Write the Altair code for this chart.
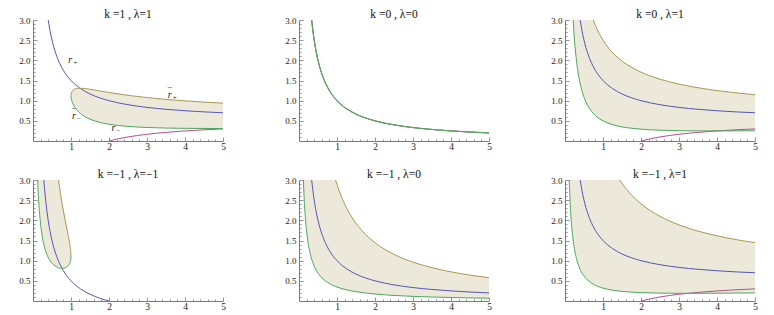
import altair as alt
import pandas as pd

# ---------------- data ----------------
# r+ curves (blue)
rp_l1_x = [0.4, 0.45, 0.5, 0.6, 0.7, 0.8, 1.0, 1.25, 1.5, 2.0, 2.5, 3.0, 3.5, 4.0, 4.5, 5.0]
rp_l1_y = [3.0, 2.722, 2.5, 2.167, 1.929, 1.75, 1.5, 1.3, 1.167, 1.0, 0.9, 0.833, 0.786, 0.75, 0.722, 0.7]
rp_l0_x = [0.3333, 0.35, 0.4, 0.45, 0.5, 0.6, 0.7, 0.8, 1.0, 1.25, 1.5, 2.0, 2.5, 3.0, 3.5, 4.0, 4.5, 5.0]
rp_l0_y = [3.0, 2.857, 2.5, 2.222, 2.0, 1.667, 1.429, 1.25, 1.0, 0.8, 0.667, 0.5, 0.4, 0.333, 0.286, 0.25, 0.222, 0.2]
rp_lm1_x = [0.2857, 0.3, 0.35, 0.4, 0.5, 0.6, 0.7, 0.8, 1.0, 1.25, 1.5, 1.75, 2.0]
rp_lm1_y = [3.0, 2.833, 2.357, 2.0, 1.5, 1.167, 0.929, 0.75, 0.5, 0.3, 0.167, 0.071, 0.0]
# r- curve (purple), lambda = 1
rm_l1_x = [2.0, 2.25, 2.5, 3.0, 3.5, 4.0, 4.5, 5.0]
rm_l1_y = [0.0, 0.056, 0.1, 0.167, 0.214, 0.25, 0.278, 0.3]

# panel k=1, lambda=1 : r-bar (olive upper, green lower)
p1_x = [1.0, 1.001, 1.005, 1.01, 1.02, 1.05, 1.1, 1.2, 1.35, 1.5, 1.75, 2.0, 2.5, 3.0, 3.5, 4.0, 4.5, 5.0]
p1_up = [1.118, 1.142, 1.170, 1.190, 1.215, 1.256, 1.288, 1.308, 1.302, 1.283, 1.242, 1.202, 1.132, 1.077, 1.032, 0.995, 0.964, 0.938]
p1_lo = [1.118, 1.093, 1.060, 1.034, 0.997, 0.921, 0.836, 0.722, 0.613, 0.541, 0.464, 0.416, 0.362, 0.335, 0.321, 0.314, 0.311, 0.309]

# panel k=0, lambda=0 : r-bar+ = r-bar- (single curve)
p2_x = rp_l0_x
p2_y = rp_l0_y

# panel k=0, lambda=1
p3_lo_x = [0.2147, 0.23, 0.25, 0.28, 0.32, 0.36, 0.4, 0.5, 0.6, 0.7, 0.745, 0.8, 0.9, 1.0, 1.25, 1.5, 1.75, 2.0, 2.5, 3.0, 3.5, 4.0, 4.5, 5.0]
p3_lo_y = [3.0, 2.763, 2.5, 2.182, 1.857, 1.611, 1.419, 1.086, 0.876, 0.733, 0.684, 0.632, 0.557, 0.5, 0.406, 0.350, 0.316, 0.293, 0.268, 0.256, 0.251, 0.25, 0.251, 0.253]
p3_up_x = [0.745, 0.8, 0.9, 1.0, 1.25, 1.5, 1.75, 2.0, 2.5, 3.0, 3.5, 4.0, 4.5, 5.0]
p3_up_y = [3.0, 2.868, 2.665, 2.5, 2.194, 1.983, 1.827, 1.707, 1.532, 1.411, 1.320, 1.25, 1.194, 1.147]

# panel k=-1, lambda=-1
p4_lo_x = [0.1217, 0.13, 0.15, 0.2, 0.25, 0.3, 0.4, 0.5, 0.6, 0.6708, 0.7, 0.75, 0.8, 0.85, 0.9, 0.95, 0.98, 0.995, 0.999, 1.0]
p4_lo_y = [3.0, 2.820, 2.469, 1.901, 1.566, 1.346, 1.082, 0.937, 0.856, 0.824, 0.816, 0.809, 0.811, 0.824, 0.851, 0.904, 0.967, 1.036, 1.079, 1.118]
p4_up_x = [0.6708, 0.7, 0.75, 0.8, 0.85, 0.9, 0.95, 0.98, 0.995, 0.999, 1.0]
p4_up_y = [3.0, 2.807, 2.505, 2.234, 1.983, 1.745, 1.503, 1.335, 1.217, 1.160, 1.118]

# panel k=-1, lambda=0
p5_lo_x = [0.1153, 0.13, 0.15, 0.2, 0.25, 0.3, 0.4, 0.5, 0.6, 0.75, 0.9633, 1.0, 1.1, 1.25, 1.5, 1.75, 2.0, 2.5, 3.0, 3.5, 4.0, 4.5, 5.0]
p5_lo_y = [3.0, 2.662, 2.307, 1.730, 1.384, 1.153, 0.865, 0.692, 0.577, 0.461, 0.359, 0.346, 0.315, 0.277, 0.231, 0.198, 0.173, 0.138, 0.115, 0.099, 0.0865, 0.077, 0.069]
p5_up_x = [0.9633, 1.0, 1.1, 1.25, 1.5, 1.75, 2.0, 2.5, 3.0, 3.5, 4.0, 4.5, 5.0]
p5_up_y = [3.0, 2.890, 2.627, 2.312, 1.927, 1.651, 1.445, 1.156, 0.963, 0.826, 0.7225, 0.642, 0.578]

# panel k=-1, lambda=1
p6_lo_x = [0.1109, 0.12, 0.13, 0.15, 0.2, 0.25, 0.3, 0.4, 0.5, 0.6, 0.75, 1.0, 1.25, 1.4423, 1.5, 1.75, 2.0, 2.5, 3.0, 3.5, 4.0, 4.5, 5.0]
p6_lo_y = [3.0, 2.765, 2.545, 2.193, 1.623, 1.283, 1.059, 0.782, 0.620, 0.515, 0.414, 0.319, 0.268, 0.244, 0.238, 0.219, 0.207, 0.195, 0.191, 0.191, 0.193, 0.197, 0.200]
p6_up_x = [1.4423, 1.5, 1.75, 2.0, 2.5, 3.0, 3.5, 4.0, 4.5, 5.0]
p6_up_y = [3.0, 2.919, 2.630, 2.411, 2.099, 1.887, 1.733, 1.616, 1.522, 1.447]

titles = ["k =1 , \u03bb=1", "k =0 , \u03bb=0", "k =0 , \u03bb=1",
          "k =\u22121 , \u03bb=\u22121", "k =\u22121 , \u03bb=0", "k =\u22121 , \u03bb=1"]

x_major = [1, 2, 3, 4, 5]
y_major = [0.5, 1.0, 1.5, 2.0, 2.5, 3.0]
x_minor = [round(0.2 * i, 1) for i in range(1, 26)]
y_minor = [round(0.1 * i, 1) for i in range(1, 31)]

# curve labels in the first panel
lab_x = [0.98, 3.6, 1.08, 2.12]
lab_y = [2.0, 1.14, 0.62, 0.32]
lab_sub = ["+", "+", "\u2212", "\u2212"]
lab_bar = [0, 1, 1, 0]

# ---------------- styling ----------------
W, H = 190, 121
BLUE = "#5757b8"
PURPLE = "#b5508a"
OLIVE = "#a89a52"
GREEN = "#4fa860"
FILL = "#ece8da"
AXC = "#7a7a7a"
FONT = "Liberation Serif"

xs = alt.Scale(domain=[0, 5], nice=False, zero=False)
ys = alt.Scale(domain=[0, 3], nice=False, zero=False)

x_lab_axis = alt.Axis(orient="bottom", values=x_major, ticks=False, domainColor=AXC, domainWidth=1,
                      labelFont=FONT, labelFontSize=9.5, labelColor="#222", labelPadding=0,
                      grid=False, title=None, labelFlush=False)
y_lab_axis = alt.Axis(orient="left", values=y_major, format=".1f", ticks=False, domainColor=AXC,
                      domainWidth=1, labelFont=FONT, labelFontSize=9, labelColor="#222",
                      labelPadding=3, grid=False, title=None, labelFlush=False)
x_tick_axis = alt.Axis(orient="top", offset=-H, values=x_minor, labels=False, domain=False,
                       tickColor=AXC, tickWidth=0.8,
                       tickSize={"condition": {"test": "abs(datum.value - round(datum.value)) < 0.01", "value": 4}, "value": 2},
                       grid=False, title=None, zindex=1)
y_tick_axis = alt.Axis(orient="right", offset=-W, values=y_minor, labels=False, domain=False,
                       tickColor=AXC, tickWidth=0.8,
                       tickSize={"condition": {"test": "abs(datum.value*2 - round(datum.value*2)) < 0.01", "value": 4}, "value": 2},
                       grid=False, title=None, zindex=1)


def line(xv, yv, color, role=None):
    df = pd.DataFrame({"x": xv, "y": yv})
    if role == "lab":
        xa, ya = x_lab_axis, y_lab_axis
    elif role == "tick":
        xa, ya = x_tick_axis, y_tick_axis
    else:
        xa, ya = None, None
    return alt.Chart(df).mark_line(color=color, strokeWidth=1, interpolate="monotone", clip=True).encode(
        x=alt.X("x:Q", scale=xs, axis=xa),
        y=alt.Y("y:Q", scale=ys, axis=ya),
    )


def area(xv, lo, hi):
    df = pd.DataFrame({"x": xv, "lo": lo, "hi": hi})
    return alt.Chart(df).mark_area(color=FILL, opacity=1, interpolate="monotone", clip=True).encode(
        x=alt.X("x:Q", scale=xs, axis=None),
        y=alt.Y("lo:Q", scale=ys, axis=None),
        y2="hi:Q",
    )


def capped_area(lo_x, lo_y, up_x, up_y):
    up = dict(zip(up_x, up_y))
    hi = [up.get(v, 3.0) for v in lo_x]
    return area(lo_x, lo_y, hi)


def panel(i, layers):
    return alt.layer(*layers).resolve_axis(x="independent", y="independent").properties(
        width=W, height=H,
        title=alt.TitleParams(titles[i], font=FONT, fontSize=11.5, fontWeight="normal",
                              color="#111", anchor="middle", offset=-4),
    )


# panel 1 labels
ldf = pd.DataFrame({"x": lab_x, "y": lab_y, "sub": lab_sub, "bar": lab_bar})
lab_r = alt.Chart(ldf).mark_text(text="r", font=FONT, fontSize=10, fontStyle="italic", color="#222").encode(
    x=alt.X("x:Q", scale=xs, axis=None), y=alt.Y("y:Q", scale=ys, axis=None))
lab_s = alt.Chart(ldf).mark_text(font=FONT, fontSize=7, dx=5, dy=3, color="#222").encode(
    x=alt.X("x:Q", scale=xs, axis=None), y=alt.Y("y:Q", scale=ys, axis=None), text="sub:N")
lab_b = alt.Chart(ldf).transform_filter("datum.bar == 1").mark_text(
    text="\u2013", font=FONT, fontSize=8, dx=0, dy=-8, color="#222").encode(
    x=alt.X("x:Q", scale=xs, axis=None), y=alt.Y("y:Q", scale=ys, axis=None))

p1 = panel(0, [
    area(p1_x, p1_lo, p1_up),
    line(rp_l1_x, rp_l1_y, BLUE, "lab"),
    line(rm_l1_x, rm_l1_y, PURPLE),
    line(p1_x, p1_up, OLIVE),
    line(p1_x, p1_lo, GREEN, "tick"),
    lab_r, lab_s, lab_b,
])
p2 = panel(1, [
    line(rp_l0_x, rp_l0_y, BLUE, "lab"),
    line(p2_x, p2_y, OLIVE),
    line(p2_x, p2_y, GREEN, "tick"),
])
p3 = panel(2, [
    capped_area(p3_lo_x, p3_lo_y, p3_up_x, p3_up_y),
    line(rp_l1_x, rp_l1_y, BLUE, "lab"),
    line(rm_l1_x, rm_l1_y, PURPLE),
    line(p3_up_x, p3_up_y, OLIVE),
    line(p3_lo_x, p3_lo_y, GREEN, "tick"),
])
p4 = panel(3, [
    capped_area(p4_lo_x, p4_lo_y, p4_up_x, p4_up_y),
    line(rp_lm1_x, rp_lm1_y, BLUE, "lab"),
    line(p4_up_x, p4_up_y, OLIVE),
    line(p4_lo_x, p4_lo_y, GREEN, "tick"),
])
p5 = panel(4, [
    capped_area(p5_lo_x, p5_lo_y, p5_up_x, p5_up_y),
    line(rp_l0_x, rp_l0_y, BLUE, "lab"),
    line(p5_up_x, p5_up_y, OLIVE),
    line(p5_lo_x, p5_lo_y, GREEN, "tick"),
])
p6 = panel(5, [
    capped_area(p6_lo_x, p6_lo_y, p6_up_x, p6_up_y),
    line(rp_l1_x, rp_l1_y, BLUE, "lab"),
    line(rm_l1_x, rm_l1_y, PURPLE),
    line(p6_up_x, p6_up_y, OLIVE),
    line(p6_lo_x, p6_lo_y, GREEN, "tick"),
])

row1 = alt.hconcat(p1, p2, p3, spacing=58)
row2 = alt.hconcat(p4, p5, p6, spacing=58)
chart = alt.vconcat(row1, row2, spacing=17).properties(
    padding={"left": 10, "top": 0, "right": 0, "bottom": 0},
    background="white",
).configure_view(stroke=None)

chart.save("out.html", embed_options={"renderer": "svg", "actions": False})
